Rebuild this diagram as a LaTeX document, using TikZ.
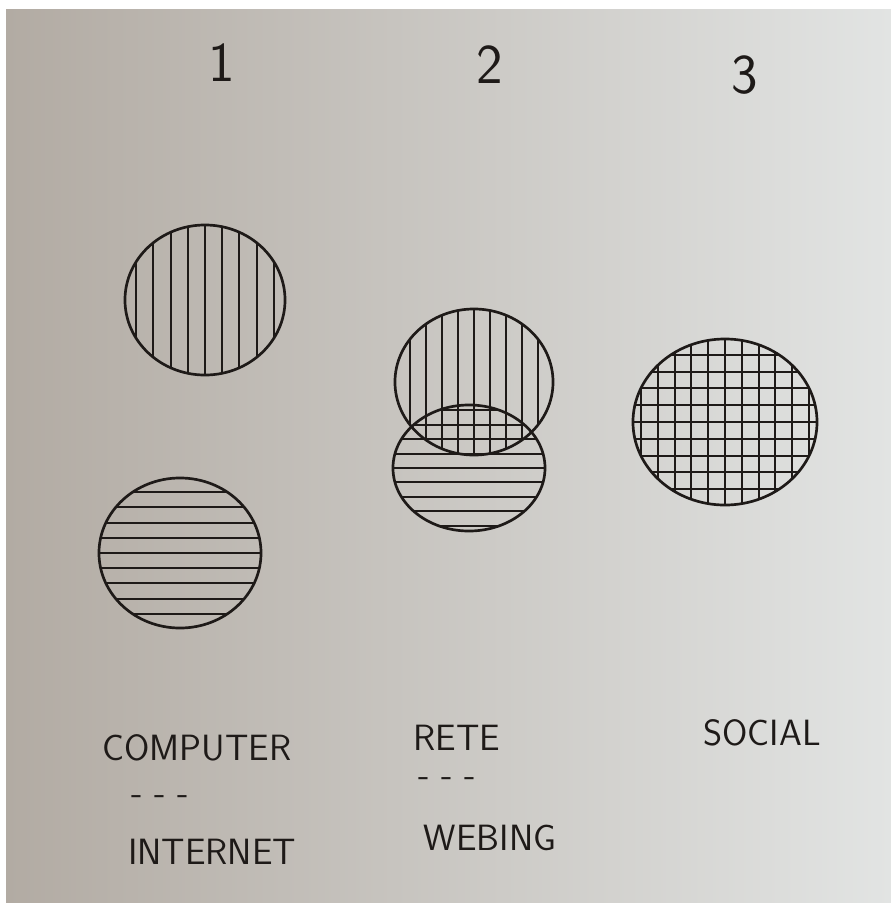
\documentclass[tikz,border=0pt]{standalone}
\usetikzlibrary{shapes.geometric}

\definecolor{paperL}{HTML}{B2ABA3}
\definecolor{paperR}{HTML}{E2E4E3}
\definecolor{ink}{HTML}{1E1A18}

\begin{document}
\begin{tikzpicture}[
  x=0.025cm, y=-0.025cm,
  pen/.style={line width=1.9pt, draw=ink},
  hatchline/.style={line width=1.4pt, ink},
  blob/.style={ellipse, pen, inner sep=0pt},
  vhatch/.style={path picture={
    \foreach \k in {-7,...,7}
      \draw[hatchline] ([xshift=\k*#1]path picture bounding box.south)
        -- ([xshift=\k*#1]path picture bounding box.north);}},
  hhatch/.style={path picture={
    \foreach \k in {-7,...,7}
      \draw[hatchline] ([yshift=\k*#1]path picture bounding box.west)
        -- ([yshift=\k*#1]path picture bounding box.east);}},
  grid hatch/.style={path picture={
    \foreach \k in {-7,...,7} {
      \draw[hatchline] ([xshift=\k*#1]path picture bounding box.south)
        -- ([xshift=\k*#1]path picture bounding box.north);
      \draw[hatchline] ([yshift=\k*#1]path picture bounding box.west)
        -- ([yshift=\k*#1]path picture bounding box.east);}}},
  digit/.style={text=ink, font=\sffamily\fontsize{40}{44}\selectfont},
  word/.style={text=ink, font=\sffamily\fontsize{26}{30}\selectfont}
]

% Paper
\fill[white] (0,0) rectangle (891,903);
\shade[left color=paperL, right color=paperR] (6,9) rectangle (891,903);

% Column numbers
\node[digit] (n1) at (222,63) {1};
\node[digit] (n2) at (490,65) {2};
\node[digit] (n3) at (745,75) {3};

% Column 1
\node[blob, vhatch=0.43cm, minimum width=4cm, minimum height=3.75cm] (comp) at (205,300) {};
\node[blob, hhatch=0.38cm, minimum width=4.05cm, minimum height=3.75cm] (net) at (180,553) {};

% Column 2
\node[blob, hhatch=0.36cm, minimum width=3.8cm, minimum height=3.15cm] (web) at (469,468) {};
\node[blob, vhatch=0.4cm, minimum width=3.95cm, minimum height=3.65cm] (rete) at (474,382) {};

% Column 3
\node[blob, grid hatch=0.42cm, minimum width=4.6cm, minimum height=4.15cm] (social) at (725,422) {};

% Labels
\node[word] (lcomp) at (197,748) {COMPUTER};
\node[word] (dcomp) at (160,800) {- - -};
\node[word] (linet) at (212,852) {INTERNET};
\node[word] (lrete) at (457,738) {RETE};
\node[word] (drete) at (447,782) {- - -};
\node[word] (lweb) at (490,838) {WEBING};
\node[word] (lsoc) at (762,733) {SOCIAL};

\end{tikzpicture}
\end{document}
